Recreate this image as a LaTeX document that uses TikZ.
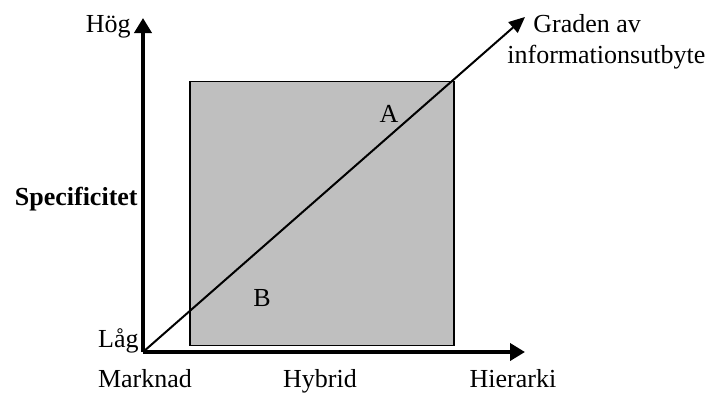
\documentclass[tikz,border=0pt]{standalone}
\usepackage{fontspec}
\setmainfont{Liberation Serif}
\usetikzlibrary{arrows.meta,positioning,calc}

\begin{document}
\begin{tikzpicture}[x=0.5pt,y=0.5pt,font=\fontsize{13}{15.6}\selectfont,
  axis/.style={line width=2pt,-{Triangle[length=7.5pt,width=8.5pt]}},
  lbl/.style={inner sep=0pt,anchor=base}]
\useasboundingbox (0,0) rectangle (710,392);
\coordinate (o) at (143,40);
\coordinate (ytop) at (143,374);
\coordinate (xend) at (525,40);
\coordinate (g) at (525,375);
\node[draw,line width=0.75pt,fill=black!25,minimum width=132pt,minimum height=132pt,anchor=south west,inner sep=0pt] (box) at (189,46) {};
\draw[axis] (o)--(ytop);\draw[axis] (o)--(xend);
\draw[line width=1pt,-{Triangle[length=8pt,width=7pt]}] (o)--(g);
\node[lbl,anchor=base east] (hog) at (131,359) {Hög};
\node[lbl,anchor=base east] (lag) at (139,45) {Låg};
\node[lbl,anchor=base east,font=\fontsize{13}{15.6}\selectfont\bfseries] (spec) at (138,187) {Specificitet};
\node[lbl] (mark) at (145,5) {Marknad};
\node[lbl] (hyb) at (320,5) {Hybrid};
\node[lbl] (hier) at (513,5) {Hierarki};
\node[lbl,anchor=base west] (grad) at (533,359) {Graden av};
\node[lbl,anchor=base west] (info) at (507,329) {informationsutbyte};
\node[lbl] (a) at (389,270) {A};
\node[lbl] (b) at (262,86) {B};
\end{tikzpicture}
\end{document}
